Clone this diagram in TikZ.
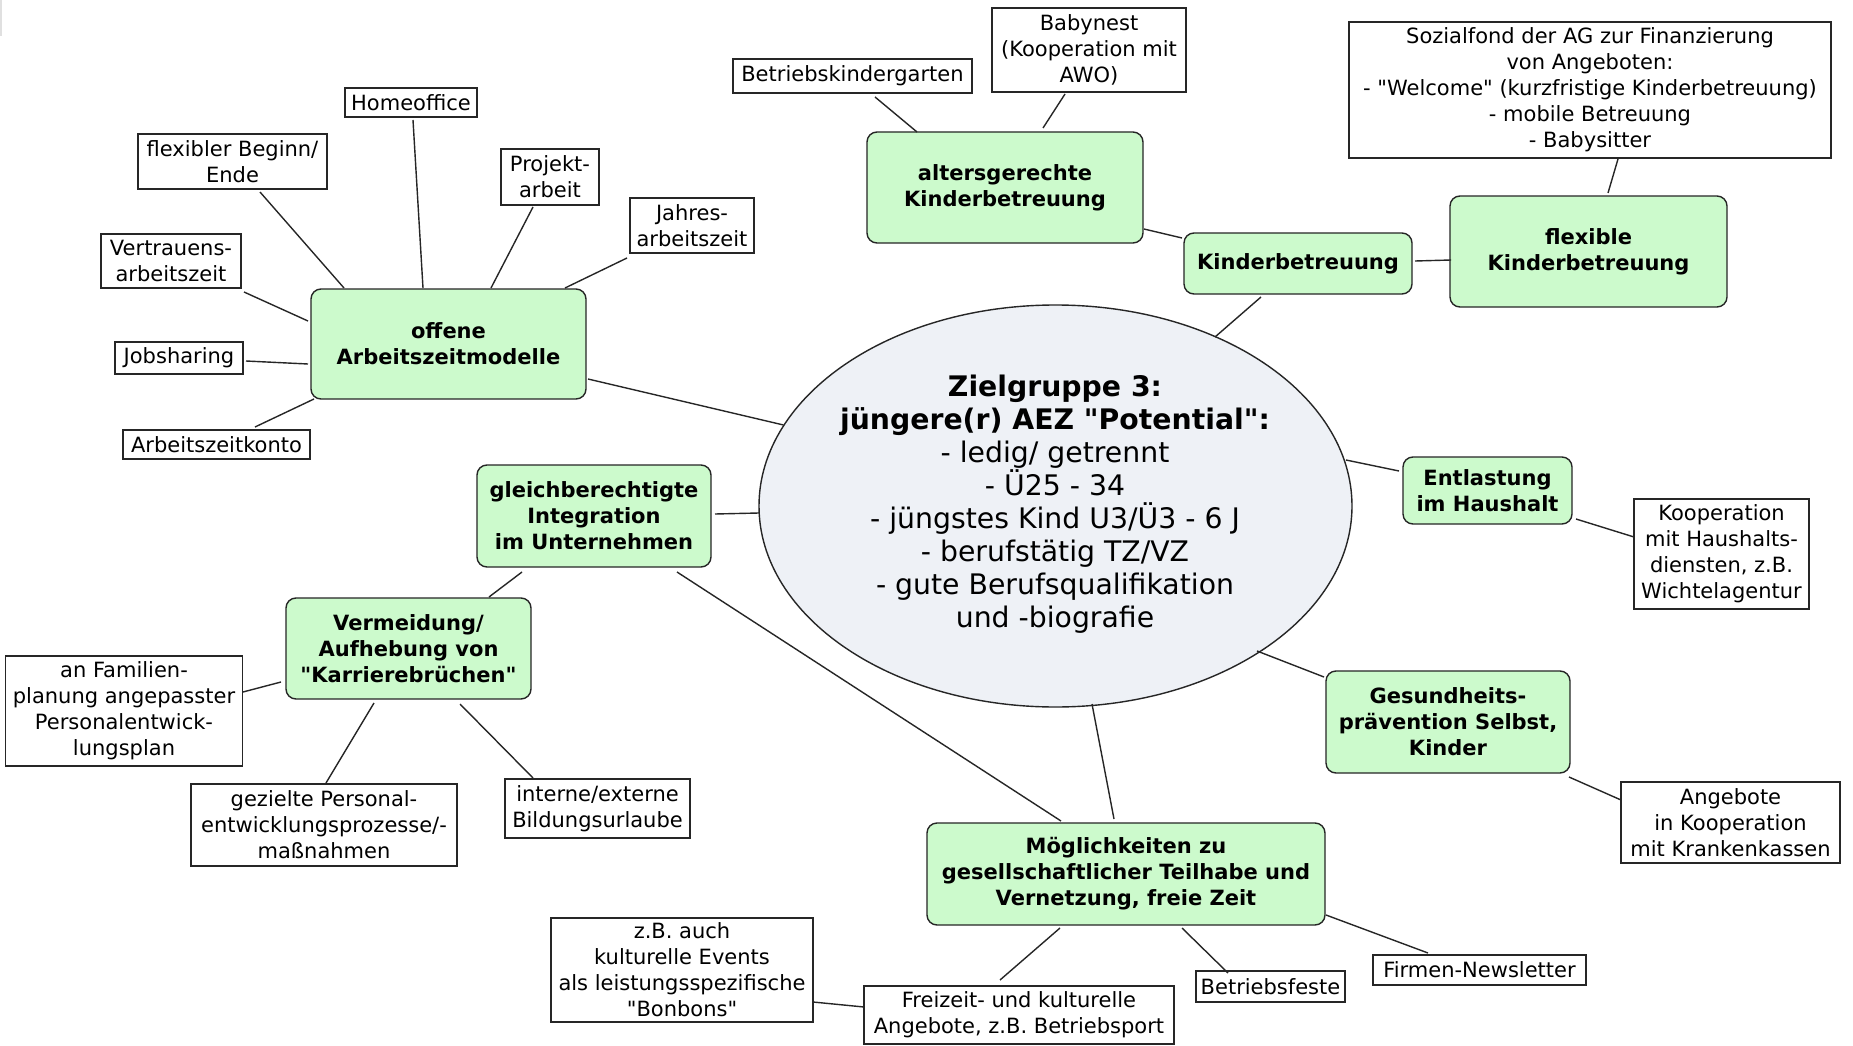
\documentclass[tikz,border=0pt]{standalone}
\usepackage{fontspec}
\setmainfont{DejaVu Sans}
\usetikzlibrary{calc,shapes.geometric}

\definecolor{topicgreen}{RGB}{204,250,204}
\definecolor{hubfill}{RGB}{238,241,246}
\definecolor{edgegray}{RGB}{38,38,38}

\tikzset{
  sz/.style 2 args={minimum width=#1pt, minimum height=#2pt},
  leaf/.style={draw=edgegray, line width=1.3pt, fill=white, align=center,
    inner sep=0pt, font=\fontsize{21}{26}\selectfont},
  topic/.style={draw=edgegray, line width=1.4pt, fill=topicgreen,
    rounded corners=10pt, align=center, inner sep=0pt,
    font=\fontsize{21}{26}\selectfont\bfseries},
  hub/.style={draw=edgegray, line width=1.4pt, fill=hubfill, ellipse, inner sep=0pt},
  hubtext/.style={align=center, inner sep=0pt, font=\fontsize{28.3}{33}\selectfont},
  conn/.style={draw=edgegray, line width=1.4pt},
}

% straight double quote
\newcommand\dq{\textquotedbl}
% connector between two nodes, each end given as an offset from the node centre
\newcommand\mmlink[4]{\draw[conn] ($(#1)+(#2)$) -- ($(#3)+(#4)$);}

\begin{document}
\begin{tikzpicture}[x=1pt,y=-1pt]
\useasboundingbox (0,0) rectangle (1853,1046);
\fill[white] (0,0) rectangle (1853,1046);
\fill[black!12] (0,0) rectangle (2,36);

% central ellipse
\node[hub, sz={593}{402}] (hub) at (1055.5,506) {};
\node[hubtext] (hubtext) at (1055,504) {%
  {\bfseries Zielgruppe 3:}\\
  {\bfseries jüngere(r) AEZ \dq Potential\dq :}\\
  - ledig/ getrennt\\
  - Ü25 - 34\\
  - jüngstes Kind U3/Ü3 - 6 J\\
  - berufstätig TZ/VZ\\
  - gute Berufsqualifikation\\
  und -biografie};

% main topics
\node[topic, sz={275}{110}] (off)    at (448.5,344)  {offene\\Arbeitszeitmodelle};
\node[topic, sz={234}{102}] (gleich) at (594,516)    {gleichberechtigte\\Integration\\im Unternehmen};
\node[topic, sz={245}{101}] (verm)   at (408.5,648.5){Vermeidung/\\Aufhebung von\\\dq Karrierebrüchen\dq};
\node[topic, sz={276}{111}] (alt)    at (1005,187.5) {altersgerechte\\Kinderbetreuung};
\node[topic, sz={228}{61}]  (kind)   at (1298,263.5) {Kinderbetreuung};
\node[topic, sz={277}{111}] (flexk)  at (1588.5,251.5){flexible\\Kinderbetreuung};
\node[topic, sz={169}{67}]  (entl)   at (1487.5,490.5){Entlastung\\im Haushalt};
\node[topic, sz={244}{102}] (ges)    at (1448,722)   {Gesundheits-\\prävention Selbst,\\Kinder};
\node[topic, sz={398}{102}] (moeg)   at (1126,874)   {Möglichkeiten zu\\gesellschaftlicher Teilhabe und\\Vernetzung, freie Zeit};

% details
\node[leaf, sz={132}{29}]  (home)   at (411,102.5)   {Homeoffice};
\node[leaf, sz={189}{55}]  (flex)   at (232.5,161.5) {flexibler Beginn/\\Ende};
\node[leaf, sz={98}{56}]   (proj)   at (550,177)     {Projekt-\\arbeit};
\node[leaf, sz={124}{55}]  (jahr)   at (692,225.5)   {Jahres-\\arbeitszeit};
\node[leaf, sz={140}{54}]  (vert)   at (171,261)     {Vertrauens-\\arbeitszeit};
\node[leaf, sz={128}{32}]  (job)    at (179,358)     {Jobsharing};
\node[leaf, sz={187}{29}]  (konto)  at (216.5,444.5) {Arbeitszeitkonto};
\node[leaf, sz={237}{110}] (fam)    at (124,711)     {an Familien-\\planung angepasster\\Personalentwick-\\lungsplan};
\node[leaf, sz={266}{82}]  (gez)    at (324,825)     {gezielte Personal-\\entwicklungsprozesse/-\\maßnahmen};
\node[leaf, sz={185}{59}]  (intern) at (597.5,808.5) {interne/externe\\Bildungsurlaube};
\node[leaf, sz={239}{34}]  (bkg)    at (852.5,76)    {Betriebskindergarten};
\node[leaf, sz={194}{84}]  (baby)   at (1089,50)     {Babynest\\(Kooperation mit\\AWO)};
\node[leaf, sz={482}{136}] (sozial) at (1590,90)     {Sozialfond der AG zur Finanzierung\\von Angeboten:\\- \dq Welcome\dq\ (kurzfristige Kinderbetreuung)\\- mobile Betreuung\\- Babysitter};
\node[leaf, sz={175}{110}] (koop)   at (1721.5,554)  {Kooperation\\mit Haushalts-\\diensten, z.B.\\Wichtelagentur};
\node[leaf, sz={219}{81}]  (kk)     at (1730.5,822.5){Angebote\\in Kooperation\\mit Krankenkassen};
\node[leaf, sz={213}{30}]  (news)   at (1479.5,970)  {Firmen-Newsletter};
\node[leaf, sz={149}{31}]  (feste)  at (1270.5,986.5){Betriebsfeste};
\node[leaf, sz={310}{58}]  (frei)   at (1019,1015)   {Freizeit- und kulturelle\\Angebote, z.B. Betriebsport};
\node[leaf, sz={262}{104}] (zb)     at (682,970)     {z.B. auch\\kulturelle Events\\als leistungsspezifische\\\dq Bonbons\dq};

% connectors
\mmlink{bkg}{22.5,21}{alt}{-88,-55.5}
\mmlink{baby}{-24,44}{alt}{38,-59.5}
\mmlink{alt}{139,41.5}{kind}{-116,-25.5}
\mmlink{kind}{117,-2.5}{flexk}{-137.5,8.5}
\mmlink{flexk}{19.5,-58.5}{sozial}{28,69}
\mmlink{hub}{159.5,-169}{kind}{-37,33.5}
\mmlink{hub}{290.5,-46}{entl}{-88.5,-19.5}
\mmlink{entl}{88.5,28.5}{koop}{-87.5,-17}
\mmlink{hub}{201.5,145}{ges}{-124,-45}
\mmlink{ges}{121,55}{kk}{-109.5,-22.5}
\mmlink{hub}{36.5,198}{moeg}{-12,-55}
\mmlink{gleich}{83,56}{moeg}{-65,-53}
\mmlink{moeg}{-66,54}{frei}{-19,-35}
\mmlink{moeg}{56,54}{feste}{-42.5,-13.5}
\mmlink{moeg}{200,41}{news}{-51.5,-17}
\mmlink{frei}{-155,-8}{zb}{131,32}
\mmlink{off}{139.5,35}{hub}{-272,-81}
\mmlink{gleich}{121,-2}{hub}{-296.5,7}
\mmlink{off}{-25.5,-56}{home}{2,17.5}
\mmlink{off}{-104.5,-56}{flex}{27.5,30.5}
\mmlink{off}{42.5,-56}{proj}{-17,30}
\mmlink{off}{116.5,-56}{jahr}{-65,32.5}
\mmlink{off}{-140.5,-23}{vert}{73,31}
\mmlink{off}{-140.5,20}{job}{67,3}
\mmlink{off}{-134.5,55}{konto}{38.5,-17.5}
\mmlink{gleich}{-72,56}{verm}{80.5,-51.5}
\mmlink{verm}{-127.5,33.5}{fam}{119,-19}
\mmlink{verm}{-34.5,54.5}{gez}{2,-42}
\mmlink{verm}{51.5,55.5}{intern}{-64.5,-30.5}
\end{tikzpicture}
\end{document}
